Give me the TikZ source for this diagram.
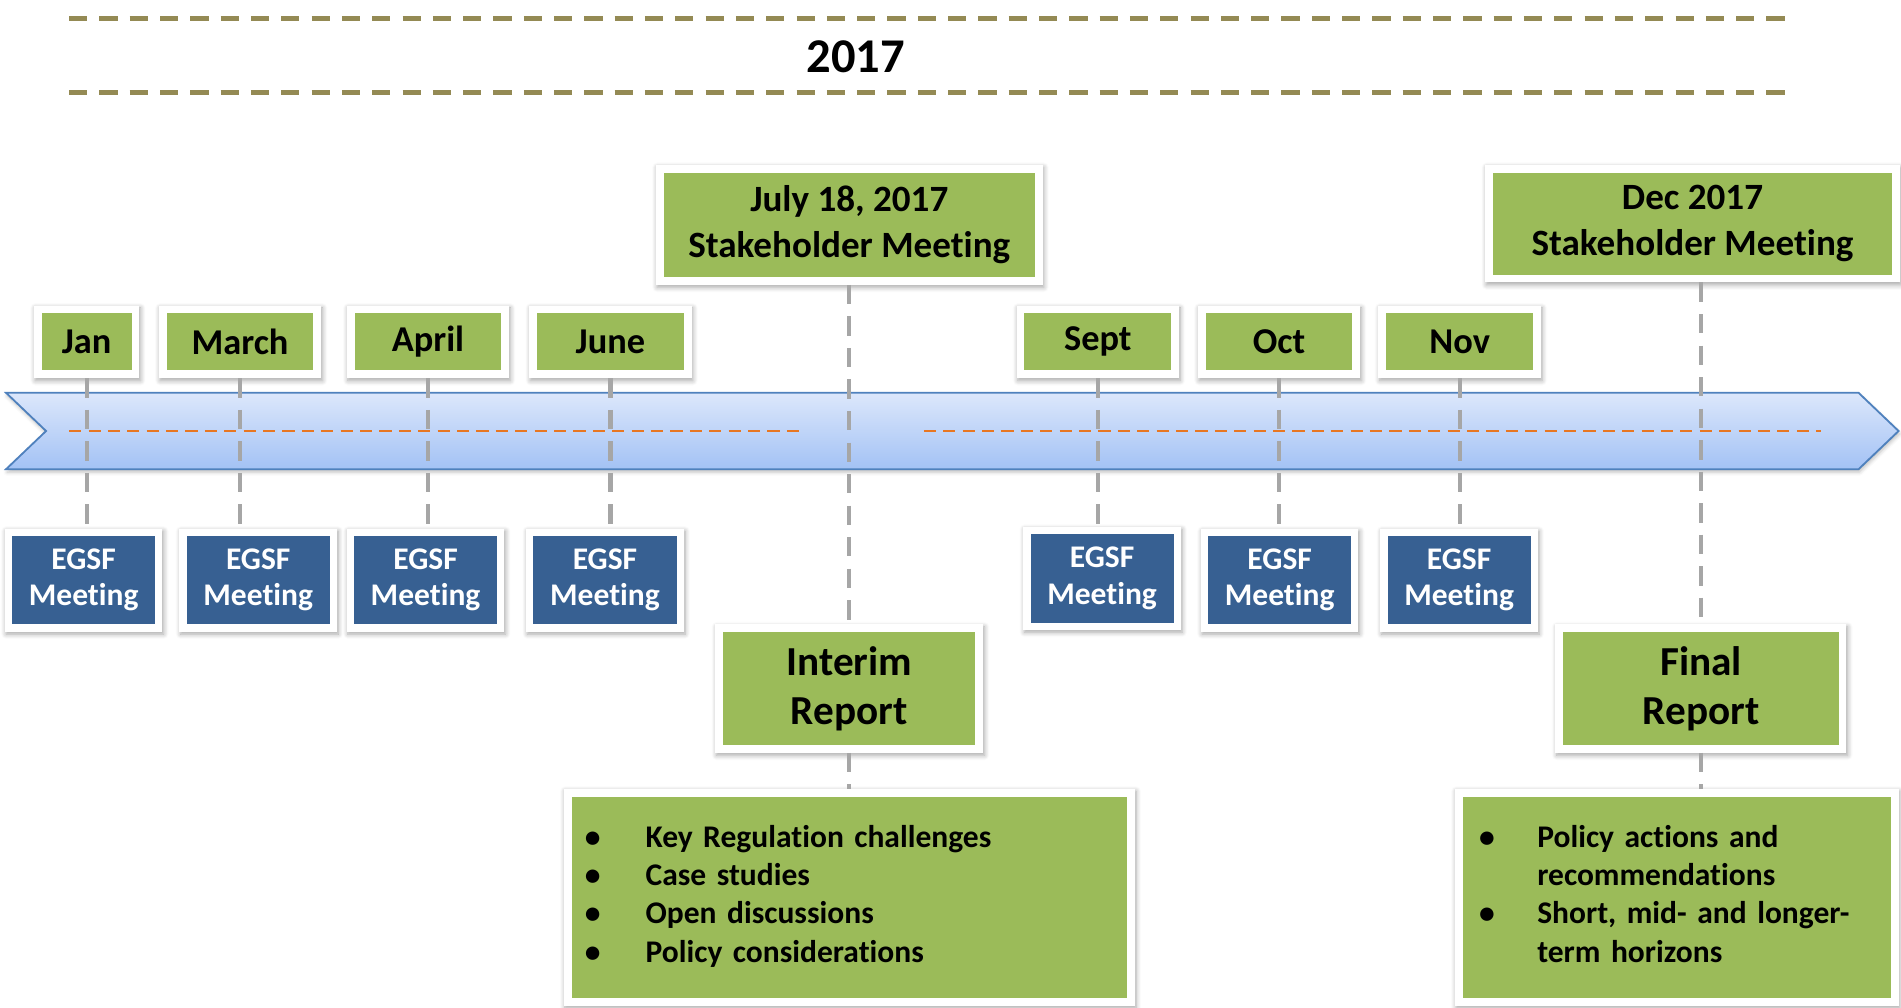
\documentclass[tikz,border=0pt]{standalone}
\usepackage{fontspec}
\setmainfont{Carlito}[Ligatures={NoCommon,NoRequired}]
\usetikzlibrary{shadows.blur}
\definecolor{grn}{HTML}{9BBB59}
\definecolor{egblue}{HTML}{376092}
\definecolor{bandline}{HTML}{4F81BD}
\definecolor{bandtop}{HTML}{DCE7FB}
\definecolor{bandbot}{HTML}{A3C2F5}
\definecolor{vgray}{HTML}{A6A6A6}
\definecolor{orng}{HTML}{E87722}
\definecolor{olivec}{HTML}{948A54}
\tikzset{
  framed/.style={fill=white, inner sep=0pt, outer sep=0pt, align=center,
    blur shadow={shadow xshift=0.5pt, shadow yshift=-1pt, shadow blur radius=2pt, shadow blur steps=6, shadow opacity=35}},
  gfill/.style={path picture={\fill[grn] ([shift={(3.25pt,3.25pt)}]path picture bounding box.south west) rectangle ([shift={(-3.25pt,-3.25pt)}]path picture bounding box.north east);}},
  bfill/.style={path picture={\fill[egblue] ([shift={(3pt,3pt)}]path picture bounding box.south west) rectangle ([shift={(-3pt,-3pt)}]path picture bounding box.north east);}},
  dims/.style 2 args={minimum width=#1*0.5pt, minimum height=#2*0.5pt},
  month/.style={framed, gfill, dims={134}{60}, font=\fontsize{15}{18}\selectfont\bfseries},
  egsf/.style={framed, bfill, dims={130}{85}, text=white, font=\fontsize{13}{15}\selectfont\bfseries},
  stake/.style={framed, gfill, font=\fontsize{15.3}{19}\selectfont\bfseries},
  report/.style={framed, gfill, font=\fontsize{17}{20.5}\selectfont\bfseries},
  bullets/.style={framed, gfill, align=left, font=\fontsize{13}{15.8}\selectfont\bfseries},
  vdash/.style={draw=vgray, line width=1.8pt, dash pattern=on 8pt off 5pt},
  topline/.style={draw=olivec, line width=2pt, dash pattern=on 7.5pt off 5pt},
  odash/.style={draw=orng, line width=1.2pt, dash pattern=on 5pt off 3pt},
}
\begin{document}
\begin{tikzpicture}[x=0.5pt, y=-0.5pt]
\useasboundingbox (0,0) rectangle (1568,831);
% header
\coordinate (t1a) at (57,15); \coordinate (t1b) at (1480,15);
\coordinate (t2a) at (57,76); \coordinate (t2b) at (1480,76);
\draw[topline] (t1a) -- (t1b);
\draw[topline] (t2a) -- (t2b);
\node[font=\fontsize{20}{24}\selectfont\bfseries] (year) at (706,47) {2017};
% band
\path[draw=bandline, line width=0.75pt, top color=bandtop, bottom color=bandbot,
  blur shadow={shadow xshift=0.4pt, shadow yshift=-1.2pt, shadow blur radius=1.5pt, shadow opacity=25}]
  (5,324) -- (1533,324) -- (1566,355.5) -- (1533,387) -- (5,387) -- (38,355.5) -- cycle;
\coordinate (o1a) at (57,355.5); \coordinate (o1b) at (662,355.5);
\coordinate (o2a) at (762,355.5); \coordinate (o2b) at (1502,355.5);
\draw[odash] (o1a) -- (o1b);
\draw[odash] (o2a) -- (o2b);
% months
\node[month, dims={87}{60}] (jan) at (71.5,282) {Jan};
\node[month] (mar) at (198,282) {March};
\node[month] (apr) at (353,282) {April};
\node[month] (jun) at (503.5,282) {June};
\node[month] (sep) at (905.5,282) {Sept};
\node[month] (oct) at (1055,282) {Oct};
\node[month] (nov) at (1204,282) {Nov};
% EGSF meetings
\node[egsf] (e1) at (69,478.5) {EGSF\\Meeting};
\node[egsf] (e2) at (213,478.5) {EGSF\\Meeting};
\node[egsf] (e3) at (351,478.5) {EGSF\\Meeting};
\node[egsf] (e4) at (499,478.5) {EGSF\\Meeting};
\node[egsf] (e5) at (909,477) {EGSF\\Meeting};
\node[egsf] (e6) at (1055.5,478.5) {EGSF\\Meeting};
\node[egsf] (e7) at (1203.5,478.5) {EGSF\\Meeting};
% stakeholder meetings
\node[stake, dims={319}{99}] (jul) at (700.5,185.5) {July 18, 2017\\Stakeholder Meeting};
\node[stake, dims={342}{97}] (dec) at (1396,184.5) {Dec 2017\\Stakeholder Meeting};
% reports
\node[report, dims={221}{106}] (interim) at (700.5,568) {Interim\\Report};
\node[report, dims={240}{106}] (final) at (1403,568) {Final\\Report};
% bullet boxes
\node[bullets, dims={471}{179}, text width=218pt] (bl) at (700.5,740)
  {\begin{tabular}{@{}p{25pt}@{}l@{}}
   \textbullet & Key Regulation challenges\\
   \textbullet & Case studies\\
   \textbullet & Open discussions\\
   \textbullet & Policy considerations
   \end{tabular}};
\node[bullets, dims={366}{179}, text width=163pt] (br) at (1383,740)
  {\begin{tabular}{@{}p{24pt}@{}l@{}}
   \textbullet & Policy actions and\\
   & recommendations\\
   \textbullet & Short, mid- and longer-\\
   & term horizons
   \end{tabular}};
% connectors
\draw[vdash] (jan.south) -- (jan.south |- e1.north);
\draw[vdash] (mar.south) -- (mar.south |- e2.north);
\draw[vdash] (apr.south) -- (apr.south |- e3.north);
\draw[vdash] (jun.south) -- (jun.south |- e4.north);
\draw[vdash] (sep.south) -- (sep.south |- e5.north);
\draw[vdash] (oct.south) -- (oct.south |- e6.north);
\draw[vdash] (nov.south) -- (nov.south |- e7.north);
\draw[vdash] (jul.south) -- (interim.north);
\draw[vdash] (interim.south) -- (interim.south |- bl.north);
\draw[vdash] (final.north |- dec.south) -- (final.north);
\draw[vdash] (final.south) -- (final.south |- br.north);
\end{tikzpicture}
\end{document}
